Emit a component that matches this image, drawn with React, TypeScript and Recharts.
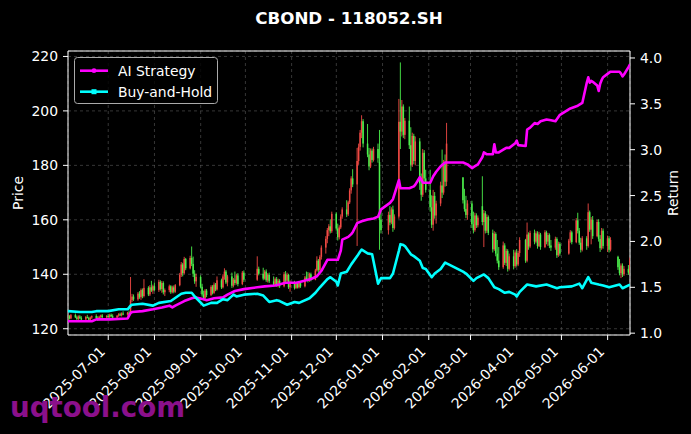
import React from "react";
import { ComposedChart, Bar, Line, XAxis, YAxis, CartesianGrid, ReferenceArea } from "recharts";

type Candle = [string, number, number, number, number]; // date, open, high, low, close
type Point = [string, number];

const FONT = "DejaVu Sans, sans-serif";
const RED = "#f04a44";
const GREEN = "#4cf04c";
const MAGENTA = "#ff00ff";
const CYAN = "#00ffff";

// daily candles, one array per month
const JUN_2025: Candle[] = [
  ["2025-06-04", 124.0, 125.2, 123.2, 124.6], ["2025-06-05", 124.6, 125.0, 123.4, 123.8],
  ["2025-06-06", 123.8, 125.4, 123.5, 125.0], ["2025-06-09", 125.0, 125.6, 123.9, 124.2],
  ["2025-06-10", 124.2, 124.8, 123.0, 123.6], ["2025-06-11", 123.6, 124.9, 123.2, 124.5],
  ["2025-06-12", 124.5, 125.0, 123.5, 123.9], ["2025-06-13", 123.9, 124.6, 122.9, 123.4],
  ["2025-06-16", 123.4, 124.7, 123.0, 124.3], ["2025-06-17", 124.3, 125.1, 123.8, 124.0],
  ["2025-06-18", 124.0, 124.4, 122.8, 123.3], ["2025-06-19", 123.3, 124.5, 123.0, 124.1],
  ["2025-06-20", 124.1, 124.9, 123.6, 124.6], ["2025-06-23", 124.6, 125.3, 123.7, 124.0],
  ["2025-06-24", 124.0, 124.6, 122.9, 123.5], ["2025-06-25", 123.5, 124.8, 123.1, 124.4],
  ["2025-06-26", 124.4, 125.2, 123.9, 124.9], ["2025-06-27", 124.9, 125.4, 123.8, 124.2],
  ["2025-06-30", 124.2, 125.0, 123.6, 124.7],
];
const JUL_2025: Candle[] = [
  ["2025-07-01", 124.7, 125.4, 124.0, 124.3], ["2025-07-02", 124.3, 125.5, 123.9, 125.1],
  ["2025-07-03", 125.1, 125.6, 124.2, 124.6], ["2025-07-04", 124.6, 125.3, 123.8, 124.1],
  ["2025-07-07", 124.1, 125.0, 123.7, 124.8], ["2025-07-08", 124.8, 125.7, 124.4, 125.3],
  ["2025-07-09", 125.3, 125.9, 124.6, 124.9], ["2025-07-10", 124.9, 126.0, 124.5, 125.6],
  ["2025-07-11", 125.6, 126.4, 125.0, 125.2], ["2025-07-14", 125.2, 126.2, 124.8, 125.9],
  ["2025-07-15", 125.9, 126.6, 125.1, 125.5], ["2025-07-16", 125.5, 139.0, 125.3, 130.5],
  ["2025-07-17", 130.5, 132.8, 129.8, 131.8], ["2025-07-18", 131.8, 132.6, 130.2, 130.8],
  ["2025-07-21", 130.8, 133.5, 130.3, 132.9], ["2025-07-22", 132.9, 133.8, 131.0, 131.6],
  ["2025-07-23", 131.6, 134.8, 130.6, 134.2], ["2025-07-24", 134.2, 134.8, 131.2, 132.0],
  ["2025-07-25", 132.0, 138.2, 131.5, 135.0], ["2025-07-28", 135.0, 135.6, 132.0, 132.6],
  ["2025-07-29", 132.6, 136.0, 132.0, 135.2], ["2025-07-30", 135.2, 137.6, 133.5, 134.0],
  ["2025-07-31", 134.0, 136.2, 132.8, 135.6],
];
const AUG_2025: Candle[] = [
  ["2025-08-01", 135.6, 137.0, 133.8, 134.2], ["2025-08-04", 134.2, 138.0, 133.5, 137.2],
  ["2025-08-05", 137.2, 137.8, 134.0, 134.6], ["2025-08-06", 134.6, 137.5, 133.2, 136.8],
  ["2025-08-07", 136.8, 137.4, 132.6, 133.4], ["2025-08-08", 133.4, 134.8, 132.0, 134.2],
  ["2025-08-11", 134.2, 136.2, 133.4, 135.6], ["2025-08-12", 135.6, 136.0, 132.8, 133.4],
  ["2025-08-13", 133.4, 135.8, 133.0, 135.2], ["2025-08-14", 135.2, 135.9, 133.0, 133.6],
  ["2025-08-15", 133.6, 136.4, 133.2, 136.0], ["2025-08-18", 136.0, 140.5, 135.6, 139.8],
  ["2025-08-19", 139.8, 144.5, 139.0, 143.6], ["2025-08-20", 143.6, 144.2, 139.2, 140.4],
  ["2025-08-21", 140.4, 146.4, 140.0, 145.6], ["2025-08-22", 145.6, 146.0, 141.5, 142.2],
  ["2025-08-25", 142.2, 146.8, 141.8, 146.0], ["2025-08-26", 146.0, 150.2, 143.0, 143.8],
  ["2025-08-27", 143.8, 146.5, 139.0, 140.2], ["2025-08-28", 140.2, 141.5, 136.5, 137.4],
  ["2025-08-29", 137.4, 140.2, 135.4, 139.0],
];
const SEP_2025: Candle[] = [
  ["2025-09-01", 139.0, 139.6, 134.8, 135.4], ["2025-09-02", 135.4, 136.5, 131.8, 132.6],
  ["2025-09-03", 132.6, 134.0, 130.4, 131.2], ["2025-09-04", 131.2, 134.6, 130.8, 134.0],
  ["2025-09-05", 134.0, 134.6, 131.6, 132.4], ["2025-09-08", 132.4, 136.0, 132.0, 135.4],
  ["2025-09-09", 135.4, 136.0, 132.6, 133.2], ["2025-09-10", 133.2, 137.0, 132.8, 136.2],
  ["2025-09-11", 136.2, 136.8, 133.8, 134.4], ["2025-09-12", 134.4, 139.2, 134.0, 137.8],
  ["2025-09-15", 137.8, 138.4, 134.6, 135.2], ["2025-09-16", 135.2, 140.0, 134.8, 139.2],
  ["2025-09-17", 139.2, 142.2, 138.0, 141.0], ["2025-09-18", 141.0, 141.6, 136.4, 137.0],
  ["2025-09-19", 137.0, 139.8, 135.6, 139.2], ["2025-09-22", 139.2, 140.6, 135.0, 135.8],
  ["2025-09-23", 135.8, 138.6, 135.2, 138.0], ["2025-09-24", 138.0, 141.0, 136.0, 136.8],
  ["2025-09-25", 136.8, 140.2, 136.2, 139.6], ["2025-09-26", 139.6, 140.4, 135.6, 136.4],
  ["2025-09-29", 136.4, 141.2, 136.0, 140.6], ["2025-09-30", 140.6, 141.4, 137.2, 138.0],
];
const OCT_2025: Candle[] = [
  ["2025-10-09", 138.0, 146.6, 137.6, 142.0], ["2025-10-10", 142.0, 142.8, 139.6, 140.2],
  ["2025-10-13", 140.2, 142.4, 137.8, 138.4], ["2025-10-14", 138.4, 141.6, 138.0, 141.0],
  ["2025-10-15", 141.0, 141.8, 137.2, 137.8], ["2025-10-16", 137.8, 140.4, 137.0, 139.8],
  ["2025-10-17", 139.8, 140.6, 136.8, 137.4], ["2025-10-20", 137.4, 139.2, 135.8, 136.2],
  ["2025-10-21", 136.2, 138.8, 135.6, 138.2], ["2025-10-22", 138.2, 139.0, 135.4, 136.0],
  ["2025-10-23", 136.0, 138.4, 135.2, 137.6], ["2025-10-24", 137.6, 138.2, 135.0, 135.6],
  ["2025-10-27", 135.6, 140.8, 135.2, 140.0], ["2025-10-28", 140.0, 141.2, 137.0, 137.6],
  ["2025-10-29", 137.6, 140.6, 136.8, 139.8], ["2025-10-30", 139.8, 140.2, 134.6, 135.2],
  ["2025-10-31", 135.2, 137.8, 133.6, 137.0],
];
const NOV_2025: Candle[] = [
  ["2025-11-03", 137.0, 137.6, 134.4, 135.0], ["2025-11-04", 135.0, 137.2, 134.6, 136.6],
  ["2025-11-05", 136.6, 137.0, 134.8, 135.2], ["2025-11-06", 135.2, 137.4, 134.8, 136.8],
  ["2025-11-07", 136.8, 137.6, 135.0, 135.6], ["2025-11-10", 135.6, 139.4, 135.2, 138.8],
  ["2025-11-11", 138.8, 141.0, 137.6, 138.2], ["2025-11-12", 138.2, 140.8, 137.0, 137.6],
  ["2025-11-13", 137.6, 140.6, 137.2, 140.0], ["2025-11-14", 140.0, 140.6, 137.4, 138.0],
  ["2025-11-17", 138.0, 142.0, 137.8, 141.4], ["2025-11-18", 141.4, 146.6, 141.0, 145.0],
  ["2025-11-19", 145.0, 145.6, 140.6, 141.6], ["2025-11-20", 141.6, 147.0, 141.2, 146.4],
  ["2025-11-21", 146.4, 150.6, 145.4, 149.8], ["2025-11-24", 149.8, 154.0, 147.6, 153.0],
  ["2025-11-25", 153.0, 157.0, 151.4, 156.2], ["2025-11-26", 156.2, 158.4, 154.0, 157.6],
  ["2025-11-27", 157.6, 160.2, 155.0, 155.8], ["2025-11-28", 155.8, 163.0, 155.2, 162.2],
];
const DEC_2025: Candle[] = [
  ["2025-12-01", 162.2, 162.8, 156.0, 156.8], ["2025-12-02", 156.8, 158.6, 152.4, 153.6],
  ["2025-12-03", 153.6, 158.0, 152.8, 157.2], ["2025-12-04", 157.2, 162.0, 156.6, 161.2],
  ["2025-12-05", 161.2, 164.6, 160.4, 163.8], ["2025-12-08", 163.8, 167.2, 161.0, 162.0],
  ["2025-12-09", 162.0, 167.0, 161.4, 166.4], ["2025-12-10", 166.4, 171.6, 165.8, 170.8],
  ["2025-12-11", 170.8, 176.0, 169.6, 175.2], ["2025-12-12", 175.2, 178.6, 172.0, 173.0],
  ["2025-12-15", 173.0, 186.4, 150.4, 181.6], ["2025-12-16", 181.6, 188.0, 180.2, 186.8],
  ["2025-12-17", 186.8, 193.0, 185.4, 192.0], ["2025-12-18", 192.0, 198.4, 190.0, 196.2],
  ["2025-12-19", 196.2, 197.0, 186.6, 188.0], ["2025-12-22", 188.0, 195.2, 183.0, 184.0],
  ["2025-12-23", 184.0, 186.4, 178.2, 179.6], ["2025-12-24", 179.6, 186.2, 179.0, 185.4],
  ["2025-12-25", 185.4, 186.2, 181.0, 182.0], ["2025-12-26", 182.0, 186.8, 181.4, 186.0],
  ["2025-12-29", 186.0, 188.0, 181.0, 182.6], ["2025-12-30", 181.2, 193.0, 149.0, 160.0],
  ["2025-12-31", 160.0, 163.4, 155.0, 156.2],
];
const JAN_2026: Candle[] = [
  ["2026-01-05", 156.2, 163.0, 154.6, 161.8], ["2026-01-06", 161.8, 165.0, 158.0, 159.0],
  ["2026-01-07", 159.0, 164.6, 158.4, 163.8], ["2026-01-08", 163.8, 165.2, 155.6, 157.0],
  ["2026-01-09", 157.0, 162.0, 156.4, 161.2], ["2026-01-12", 161.2, 204.4, 160.4, 196.0],
  ["2026-01-13", 196.0, 217.8, 186.0, 192.4], ["2026-01-14", 192.4, 204.0, 190.6, 201.6],
  ["2026-01-15", 201.6, 202.4, 190.0, 191.2], ["2026-01-16", 191.2, 197.4, 189.6, 196.4],
  ["2026-01-19", 196.4, 201.6, 186.0, 187.4], ["2026-01-20", 187.4, 194.0, 178.0, 180.2],
  ["2026-01-21", 180.2, 192.0, 179.4, 190.8], ["2026-01-22", 190.8, 191.6, 180.4, 181.6],
  ["2026-01-23", 181.6, 190.6, 180.0, 188.8], ["2026-01-26", 188.8, 190.0, 171.0, 173.4],
  ["2026-01-27", 173.4, 177.0, 167.0, 169.2], ["2026-01-28", 169.2, 186.0, 168.4, 184.6],
  ["2026-01-29", 184.6, 185.6, 174.0, 175.2], ["2026-01-30", 175.2, 178.4, 170.0, 171.0],
];
const FEB_2026: Candle[] = [
  ["2026-02-02", 171.0, 178.4, 163.0, 164.6], ["2026-02-03", 164.6, 169.0, 157.0, 158.2],
  ["2026-02-04", 158.2, 171.0, 156.0, 168.8], ["2026-02-05", 168.8, 170.2, 160.4, 161.6],
  ["2026-02-06", 161.6, 167.0, 158.6, 166.0], ["2026-02-09", 166.0, 174.0, 165.0, 172.6],
  ["2026-02-10", 172.6, 185.8, 168.0, 170.0], ["2026-02-11", 170.0, 182.0, 169.2, 180.6],
  ["2026-02-12", 180.6, 184.0, 172.2, 174.0], ["2026-02-13", 174.0, 195.6, 172.4, 188.0],
  ["2026-02-24", 175.6, 175.6, 166.0, 167.2], ["2026-02-25", 167.2, 171.4, 163.0, 164.0],
  ["2026-02-26", 164.0, 168.8, 160.6, 161.8], ["2026-02-27", 161.8, 167.2, 160.0, 166.0],
];
const MAR_2026: Candle[] = [
  ["2026-03-02", 166.0, 167.0, 157.0, 158.4], ["2026-03-03", 158.4, 163.0, 155.0, 156.2],
  ["2026-03-04", 156.2, 162.6, 155.6, 161.6], ["2026-03-05", 161.6, 162.4, 157.0, 158.0],
  ["2026-03-06", 158.0, 161.6, 157.2, 160.8], ["2026-03-09", 165.0, 176.0, 158.0, 159.2],
  ["2026-03-10", 159.2, 163.6, 150.0, 162.4], ["2026-03-11", 162.4, 163.2, 155.0, 156.0],
  ["2026-03-12", 156.0, 162.0, 155.2, 161.0], ["2026-03-13", 161.0, 161.6, 154.4, 155.2],
  ["2026-03-16", 155.2, 156.4, 148.0, 149.2], ["2026-03-17", 149.2, 155.8, 148.6, 154.8],
  ["2026-03-18", 154.8, 155.4, 146.6, 147.6], ["2026-03-19", 147.6, 152.6, 144.0, 145.0],
  ["2026-03-20", 145.0, 150.0, 141.6, 142.6], ["2026-03-23", 142.6, 152.0, 142.0, 150.6],
  ["2026-03-24", 150.6, 151.4, 143.4, 144.2], ["2026-03-25", 144.2, 149.4, 143.0, 148.6],
  ["2026-03-26", 148.6, 149.2, 141.0, 142.0], ["2026-03-27", 142.0, 147.6, 141.4, 146.6],
  ["2026-03-30", 146.6, 149.0, 141.8, 143.0], ["2026-03-31", 143.0, 148.8, 142.4, 148.0],
];
const APR_2026: Candle[] = [
  ["2026-04-01", 148.0, 149.2, 142.8, 143.6], ["2026-04-02", 143.6, 148.6, 143.0, 147.8],
  ["2026-04-03", 147.8, 153.6, 146.4, 152.6], ["2026-04-07", 152.6, 153.0, 144.2, 145.0],
  ["2026-04-08", 145.0, 159.0, 144.4, 154.6], ["2026-04-09", 154.6, 155.4, 149.0, 150.2],
  ["2026-04-10", 150.2, 156.0, 149.6, 155.2], ["2026-04-13", 155.2, 156.4, 151.0, 152.0],
  ["2026-04-14", 152.0, 155.8, 151.4, 155.0], ["2026-04-15", 155.0, 155.8, 149.4, 150.4],
  ["2026-04-16", 150.4, 155.6, 150.0, 154.6], ["2026-04-17", 154.6, 155.2, 149.0, 150.0],
  ["2026-04-20", 150.0, 156.2, 149.6, 155.4], ["2026-04-21", 155.4, 156.0, 151.0, 152.0],
  ["2026-04-22", 152.0, 155.2, 150.4, 154.4], ["2026-04-23", 154.4, 155.0, 149.6, 150.6],
  ["2026-04-24", 150.6, 152.6, 148.6, 149.8], ["2026-04-27", 149.8, 153.8, 149.0, 153.0],
  ["2026-04-28", 153.0, 153.6, 146.0, 147.0], ["2026-04-29", 147.0, 152.0, 146.4, 151.2],
  ["2026-04-30", 151.2, 151.8, 146.8, 147.6],
];
const MAY_2026: Candle[] = [
  ["2026-05-06", 147.6, 153.0, 147.2, 152.4], ["2026-05-07", 152.4, 156.2, 151.6, 155.4],
  ["2026-05-08", 155.4, 156.0, 151.0, 151.8], ["2026-05-11", 151.8, 160.6, 151.4, 159.8],
  ["2026-05-12", 159.8, 162.6, 155.0, 156.0], ["2026-05-13", 156.0, 157.0, 150.8, 151.6],
  ["2026-05-14", 151.6, 153.4, 148.0, 149.0], ["2026-05-15", 149.0, 154.0, 148.4, 153.2],
  ["2026-05-18", 153.2, 154.0, 149.0, 150.4], ["2026-05-19", 150.4, 166.0, 149.8, 162.8],
  ["2026-05-20", 162.8, 163.4, 155.6, 156.4], ["2026-05-21", 156.4, 161.0, 151.0, 160.0],
  ["2026-05-22", 160.0, 161.4, 153.0, 154.0], ["2026-05-25", 154.0, 160.0, 153.6, 159.2],
  ["2026-05-26", 159.2, 160.2, 152.0, 153.0], ["2026-05-27", 153.0, 154.4, 148.2, 149.6],
  ["2026-05-28", 149.6, 157.0, 149.0, 156.0], ["2026-05-29", 156.0, 156.8, 149.4, 150.4],
];
const JUN_2026: Candle[] = [
  ["2026-06-01", 150.4, 154.2, 148.2, 153.2], ["2026-06-02", 153.2, 154.0, 148.0, 149.0],
  ["2026-06-03", 149.0, 153.6, 148.4, 152.6], ["2026-06-08", 146.4, 146.8, 141.6, 142.6],
  ["2026-06-09", 142.6, 145.6, 139.6, 140.4], ["2026-06-10", 140.4, 144.0, 138.6, 143.2],
  ["2026-06-11", 143.2, 144.0, 139.0, 140.0], ["2026-06-12", 140.0, 143.0, 139.4, 142.0],
  ["2026-06-15", 142.0, 143.4, 139.8, 140.6], ["2026-06-16", 140.6, 146.2, 140.0, 145.4],
];

const AI_STRATEGY: Point[] = [
  ["2025-06-04", 1.13], ["2025-06-20", 1.13], ["2025-06-23", 1.15], ["2025-07-02", 1.15],
  ["2025-07-14", 1.16], ["2025-07-16", 1.22], ["2025-07-17", 1.23], ["2025-07-24", 1.24],
  ["2025-07-31", 1.26], ["2025-08-06", 1.28], ["2025-08-11", 1.30], ["2025-08-13", 1.28],
  ["2025-08-15", 1.30], ["2025-08-21", 1.35], ["2025-08-26", 1.38], ["2025-08-28", 1.39],
  ["2025-09-03", 1.37], ["2025-09-05", 1.36], ["2025-09-10", 1.38], ["2025-09-16", 1.39],
  ["2025-09-19", 1.42], ["2025-09-24", 1.46], ["2025-09-30", 1.48], ["2025-10-09", 1.50],
  ["2025-10-14", 1.51], ["2025-10-21", 1.52], ["2025-10-28", 1.55], ["2025-11-04", 1.55],
  ["2025-11-07", 1.56], ["2025-11-14", 1.59], ["2025-11-18", 1.62], ["2025-11-21", 1.68],
  ["2025-11-25", 1.80], ["2025-12-02", 1.80], ["2025-12-04", 1.90], ["2025-12-05", 2.02],
  ["2025-12-09", 2.05], ["2025-12-11", 2.08], ["2025-12-12", 2.10], ["2025-12-15", 2.20],
  ["2025-12-18", 2.22], ["2025-12-22", 2.24], ["2025-12-26", 2.25], ["2025-12-29", 2.27],
  ["2025-12-31", 2.35], ["2026-01-06", 2.42], ["2026-01-08", 2.46], ["2026-01-12", 2.67],
  ["2026-01-13", 2.58], ["2026-01-19", 2.58], ["2026-01-22", 2.60], ["2026-01-23", 2.62],
  ["2026-01-26", 2.70], ["2026-01-28", 2.64], ["2026-02-02", 2.64], ["2026-02-04", 2.71],
  ["2026-02-06", 2.76], ["2026-02-09", 2.82], ["2026-02-12", 2.86], ["2026-02-24", 2.86],
  ["2026-02-27", 2.84], ["2026-03-02", 2.80], ["2026-03-04", 2.82], ["2026-03-06", 2.84],
  ["2026-03-09", 2.92], ["2026-03-10", 2.97], ["2026-03-12", 2.95], ["2026-03-16", 2.95],
  ["2026-03-17", 3.06], ["2026-03-18", 2.97], ["2026-03-20", 2.97], ["2026-03-23", 3.00],
  ["2026-03-25", 3.02], ["2026-03-27", 3.02], ["2026-03-31", 3.07], ["2026-04-01", 3.10],
  ["2026-04-02", 3.05], ["2026-04-07", 3.04], ["2026-04-08", 3.22], ["2026-04-10", 3.24],
  ["2026-04-13", 3.29], ["2026-04-15", 3.28], ["2026-04-17", 3.31], ["2026-04-21", 3.33],
  ["2026-04-24", 3.32], ["2026-04-27", 3.31], ["2026-04-30", 3.38], ["2026-05-07", 3.45],
  ["2026-05-12", 3.48], ["2026-05-15", 3.51], ["2026-05-18", 3.73], ["2026-05-19", 3.79],
  ["2026-05-20", 3.73], ["2026-05-21", 3.75], ["2026-05-22", 3.74], ["2026-05-25", 3.70],
  ["2026-05-26", 3.64], ["2026-05-27", 3.72], ["2026-05-28", 3.76], ["2026-05-29", 3.79],
  ["2026-06-02", 3.84], ["2026-06-03", 3.85], ["2026-06-09", 3.85], ["2026-06-10", 3.83],
  ["2026-06-11", 3.80], ["2026-06-12", 3.82], ["2026-06-15", 3.90], ["2026-06-16", 3.93],
];

const BUY_AND_HOLD: Point[] = [
  ["2025-06-04", 1.24], ["2025-06-12", 1.23], ["2025-06-20", 1.23], ["2025-06-23", 1.24],
  ["2025-07-01", 1.24], ["2025-07-08", 1.26], ["2025-07-14", 1.26], ["2025-07-16", 1.30],
  ["2025-07-17", 1.31], ["2025-07-24", 1.32], ["2025-07-31", 1.30], ["2025-08-04", 1.33],
  ["2025-08-12", 1.35], ["2025-08-19", 1.43], ["2025-08-22", 1.44], ["2025-08-26", 1.44],
  ["2025-08-28", 1.40], ["2025-09-03", 1.30], ["2025-09-08", 1.33], ["2025-09-12", 1.33],
  ["2025-09-16", 1.37], ["2025-09-19", 1.36], ["2025-09-23", 1.42], ["2025-09-25", 1.40],
  ["2025-09-30", 1.42], ["2025-10-09", 1.43], ["2025-10-13", 1.41], ["2025-10-17", 1.34],
  ["2025-10-22", 1.36], ["2025-10-24", 1.35], ["2025-10-29", 1.31], ["2025-11-03", 1.34],
  ["2025-11-06", 1.33], ["2025-11-13", 1.38], ["2025-11-17", 1.44], ["2025-11-20", 1.50],
  ["2025-11-25", 1.59], ["2025-11-27", 1.61], ["2025-12-01", 1.56], ["2025-12-02", 1.52],
  ["2025-12-04", 1.65], ["2025-12-08", 1.67], ["2025-12-11", 1.75], ["2025-12-15", 1.84],
  ["2025-12-17", 1.89], ["2025-12-18", 1.91], ["2025-12-22", 1.87], ["2025-12-25", 1.86],
  ["2025-12-29", 1.54], ["2025-12-31", 1.60], ["2026-01-06", 1.60], ["2026-01-08", 1.65],
  ["2026-01-12", 1.90], ["2026-01-13", 1.97], ["2026-01-15", 1.96], ["2026-01-16", 1.95],
  ["2026-01-20", 1.86], ["2026-01-22", 1.84], ["2026-01-26", 1.79], ["2026-01-28", 1.71],
  ["2026-01-30", 1.70], ["2026-02-03", 1.61], ["2026-02-05", 1.65], ["2026-02-09", 1.70],
  ["2026-02-12", 1.77], ["2026-02-13", 1.76], ["2026-02-24", 1.67], ["2026-02-26", 1.65],
  ["2026-03-03", 1.57], ["2026-03-05", 1.60], ["2026-03-10", 1.64], ["2026-03-13", 1.60],
  ["2026-03-17", 1.50], ["2026-03-20", 1.48], ["2026-03-24", 1.44], ["2026-03-27", 1.45],
  ["2026-03-31", 1.42], ["2026-04-01", 1.40], ["2026-04-03", 1.45], ["2026-04-08", 1.53],
  ["2026-04-14", 1.51], ["2026-04-21", 1.53], ["2026-04-28", 1.49], ["2026-04-30", 1.50],
  ["2026-05-08", 1.51], ["2026-05-13", 1.54], ["2026-05-15", 1.49], ["2026-05-19", 1.61],
  ["2026-05-21", 1.55], ["2026-05-26", 1.53], ["2026-05-29", 1.52], ["2026-06-02", 1.50],
  ["2026-06-09", 1.53], ["2026-06-11", 1.49], ["2026-06-16", 1.53],
];

const MONTH_TICKS = [
  "2025-07-01", "2025-08-01", "2025-09-01", "2025-10-01", "2025-11-01", "2025-12-01",
  "2026-01-01", "2026-02-01", "2026-03-01", "2026-04-01", "2026-05-01", "2026-06-01",
];
const PRICE_TICKS = [120, 140, 160, 180, 200, 220];
const RETURN_TICKS = [1.0, 1.5, 2.0, 2.5, 3.0, 3.5, 4.0];

const X_DOMAIN = [Date.parse("2025-06-04"), Date.parse("2026-06-16")];
const PRICE_DOMAIN = [117.7, 222.0];
const RETURN_DOMAIN = [0.98, 4.076];

const candles = [
  ...JUN_2025, ...JUL_2025, ...AUG_2025, ...SEP_2025, ...OCT_2025, ...NOV_2025,
  ...DEC_2025, ...JAN_2026, ...FEB_2026, ...MAR_2026, ...APR_2026, ...MAY_2026, ...JUN_2026,
].map(([d, o, h, l, c]) => ({ t: Date.parse(d), o, h, l, c, range: [l, h] }));

const toSeries = (pts: Point[]) => pts.map(([d, v]) => ({ t: Date.parse(d), v }));
const aiData = toSeries(AI_STRATEGY);
const bhData = toSeries(BUY_AND_HOLD);
const monthTicks = MONTH_TICKS.map((d) => Date.parse(d));

const fmtDate = (t: number) => new Date(t).toISOString().slice(0, 10);

function CandleShape(props: any) {
  const { x, y, width, height, payload } = props;
  if (x == null || y == null || !payload) return null;
  const { o, h, l, c } = payload;
  const top = Math.min(y, y + height);
  const bottom = Math.max(y, y + height);
  const span = h - l || 1;
  const toY = (v: number) => top + ((h - v) / span) * (bottom - top);
  const cx = x + width / 2;
  const color = c >= o ? RED : GREEN;
  const y1 = Math.min(toY(o), toY(c));
  const y2 = Math.max(toY(o), toY(c));
  return (
    <g>
      <line x1={cx} x2={cx} y1={top} y2={bottom} stroke={color} strokeWidth={0.9} />
      <rect x={cx - 0.75} y={y1} width={1.5} height={Math.max(y2 - y1, 0.8)} fill={color} />
    </g>
  );
}

function DateTick(props: any) {
  const { x, y, payload } = props;
  return (
    <g transform={`translate(${x - 2.3},${y + 7.5})`}>
      <text textAnchor="end" fill="#fff" fontSize={13.9} fontFamily={FONT} transform="rotate(-45)">
        {fmtDate(payload.value)}
      </text>
    </g>
  );
}

const axisTitle = (text: string, dx: number) => (props: any) => {
  const vb = props.viewBox || {};
  const cx = (vb.x ?? 0) + dx;
  const cy = (vb.y ?? 51) + (vb.height ?? 284) / 2;
  return (
    <text x={cx} y={cy} fill="#fff" fontSize={13.9} fontFamily={FONT} textAnchor="middle"
      dominantBaseline="central" transform={`rotate(-90, ${cx}, ${cy})`}>
      {text}
    </text>
  );
};

function LegendBox() {
  return (
    <svg width={691} height={434} style={{ position: "absolute", left: 0, top: 0, pointerEvents: "none" }}>
      <rect x={74.5} y={57.5} width={143} height={46} rx={3} fill="rgba(0,0,0,0.8)" stroke="#aaa" strokeWidth={1} />
      <line x1={80} x2={108} y1={70.7} y2={70.7} stroke={MAGENTA} strokeWidth={2.6} />
      <circle cx={94} cy={70.7} r={2.4} fill={MAGENTA} />
      <text x={118} y={75.6} fill="#fff" fontSize={13.9} fontFamily={FONT}>AI Strategy</text>
      <line x1={80} x2={108} y1={91.7} y2={91.7} stroke={CYAN} strokeWidth={2.6} />
      <rect x={91.5} y={89.2} width={5} height={5} fill={CYAN} />
      <text x={118} y={96.6} fill="#fff" fontSize={13.9} fontFamily={FONT}>Buy-and-Hold</text>
    </svg>
  );
}

export default function App() {
  return (
    <div style={{ position: "fixed", left: 0, top: 0, width: 691, height: 434, background: "#000", overflow: "hidden", fontFamily: FONT }}>
      <div style={{ position: "absolute", left: 68, top: 8, width: 562, lineHeight: "20px", textAlign: "center", color: "#fff", fontSize: 16.7, fontWeight: "bold" }}>
        CBOND - 118052.SH
      </div>
      <div style={{ position: "absolute", left: 0, top: 0 }}>
        <ComposedChart width={691} height={434} data={candles} margin={{ top: 51, right: 0, bottom: 0, left: 0 }}>
          <CartesianGrid yAxisId="left" stroke="#5a5a5a" strokeDasharray="3 3" strokeWidth={0.6} />
          <XAxis dataKey="t" type="number" domain={X_DOMAIN} allowDataOverflow ticks={monthTicks} interval={0}
            height={99} tickSize={5} tickMargin={5} tick={<DateTick />} tickLine={{ stroke: "#fff" }} axisLine={false} />
          <YAxis yAxisId="left" orientation="left" width={68} domain={PRICE_DOMAIN} allowDataOverflow ticks={PRICE_TICKS}
            interval={0} tickSize={5} tickMargin={5} tick={{ fill: "#fff", fontSize: 13.9, fontFamily: FONT }}
            tickLine={{ stroke: "#fff" }} axisLine={false} label={axisTitle("Price", 17.5)} />
          <YAxis yAxisId="right" orientation="right" width={61} domain={RETURN_DOMAIN} allowDataOverflow ticks={RETURN_TICKS}
            interval={0} tickSize={5} tickMargin={5} tickFormatter={(v: number) => v.toFixed(1)}
            tick={{ fill: "#fff", fontSize: 13.9, fontFamily: FONT }} tickLine={{ stroke: "#fff" }} axisLine={false}
            label={axisTitle("Return", 43)} />
          <Bar yAxisId="left" dataKey="range" shape={CandleShape} barSize={2} isAnimationActive={false} />
          <Line yAxisId="right" data={aiData} dataKey="v" type="linear" stroke={MAGENTA} strokeWidth={2.6}
            dot={false} activeDot={false} isAnimationActive={false} strokeLinejoin="round" />
          <Line yAxisId="right" data={bhData} dataKey="v" type="linear" stroke={CYAN} strokeWidth={2.6}
            dot={false} activeDot={false} isAnimationActive={false} strokeLinejoin="round" />
          <ReferenceArea yAxisId="left" x1={X_DOMAIN[0]} x2={X_DOMAIN[1]} y1={PRICE_DOMAIN[0]} y2={PRICE_DOMAIN[1]}
            fill="none" stroke="#fff" strokeWidth={1} ifOverflow="visible" />
        </ComposedChart>
      </div>
      <LegendBox />
      <div style={{ position: "absolute", left: 10, top: 394, lineHeight: "28px", fontSize: 27.7, fontWeight: "bold", color: "#8b108b" }}>
        uqtool.com
      </div>
    </div>
  );
}
